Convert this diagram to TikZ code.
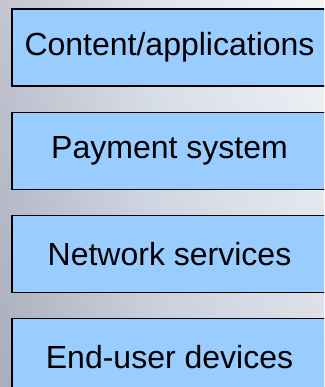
\documentclass[tikz,border=0pt]{standalone}
\usepackage{fontspec}
\setmainfont{Liberation Sans}
\usepackage{tikz}
\usetikzlibrary{positioning}

\definecolor{layerblue}{HTML}{99CCFF}
\definecolor{bgleft}{HTML}{A9ADBD}
\definecolor{bgmid}{HTML}{D2DAE6}
\definecolor{bgright}{HTML}{EEF1F6}

\tikzset{
	layer/.style={draw=black, line width=1.2pt, fill=layerblue, minimum width=315pt, minimum height=77pt, inner sep=0pt, font=\fontsize{32}{38}\selectfont}
}

\begin{document}
\begin{tikzpicture}[x=1pt,y=1pt]
			\useasboundingbox (0,0) rectangle (324,387);
			\clip (0,0) rectangle (324,387);
			% backdrop
			\shade[left color=bgleft, right color=bgright, middle color=bgmid] (0,0) rectangle (324,387);
			\shade[top color=white, bottom color=bgleft, opacity=0.3] (0,0) rectangle (324,387);
			
			% the four layers, top to bottom
			\node[layer] at (169.5,339.5) (content){Content/applications};
			\node[layer, below=25pt of content] (payment){Payment system};
			\node[layer, below=25pt of payment] (network){Network services};
			\node[layer, below=25pt of network] (devices){End-user devices};
			\end{tikzpicture}
\end{document}
